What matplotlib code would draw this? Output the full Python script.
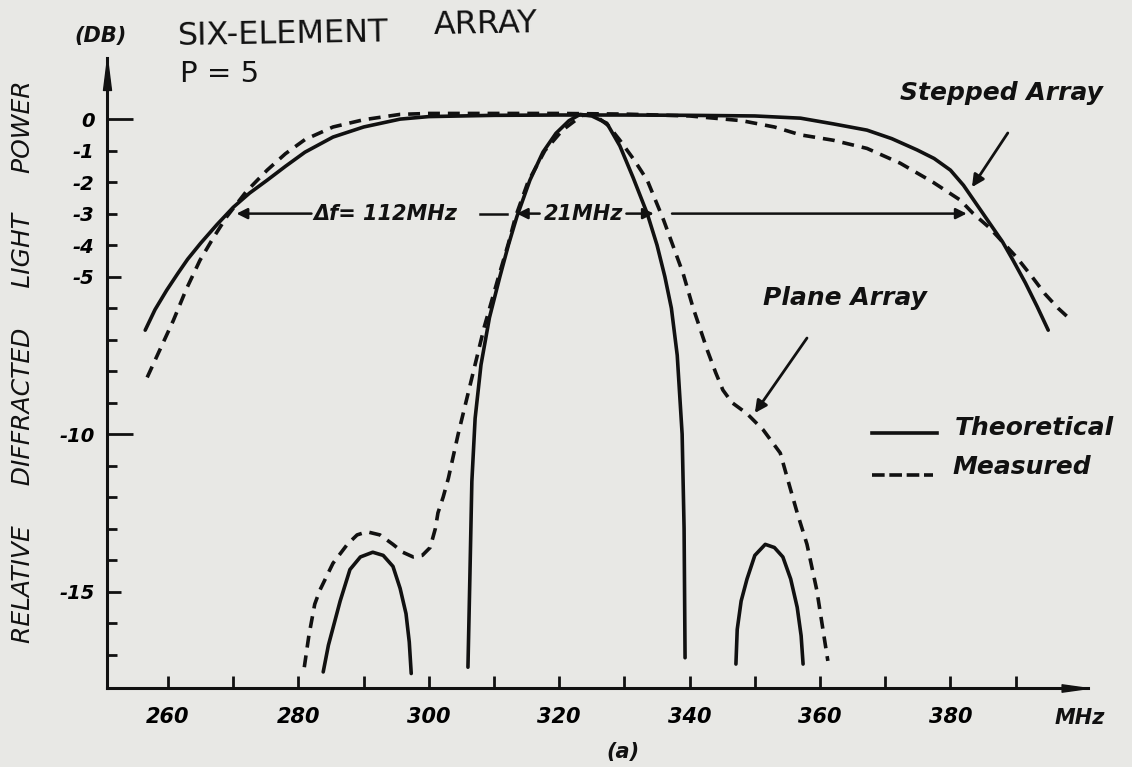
import numpy as np
import matplotlib
matplotlib.use("Agg")
import matplotlib.pyplot as plt
from matplotlib.path import Path

# ---- data: frequency (MHz) and relative diffracted power (dB) ----
stepped_theory_f = [256.5, 258.0, 259.8, 261.5, 263.0, 265.0, 267.5, 270.0, 272.5, 275.2,
                    278.0, 281.0, 285.3, 290.0, 295.6, 300.0, 310.0, 320.0, 330.0, 340.0,
                    350.0, 357.0, 362.0, 367.2, 371.0, 374.9, 377.5, 380.0, 382.0, 384.1,
                    386.0, 388.0, 389.6, 391.5, 393.3, 395.0]
stepped_theory_db = [-6.7, -6.05, -5.43, -4.9, -4.45, -3.94, -3.35, -2.8, -2.35, -1.94,
                     -1.5, -1.05, -0.57, -0.25, 0.0, 0.08, 0.12, 0.13, 0.13, 0.12,
                     0.1, 0.03, -0.15, -0.35, -0.62, -0.98, -1.25, -1.62, -2.1, -2.73,
                     -3.3, -3.9, -4.48, -5.2, -5.95, -6.7]

stepped_meas_f = [256.8, 258.8, 260.8, 262.8, 264.9, 267.0, 269.0, 272.0, 275.2, 278.0,
                  281.0, 285.3, 290.0, 295.6, 300.0, 310.0, 320.0, 330.0, 340.0, 348.0,
                  353.0, 357.0, 362.0, 367.2, 372.3, 377.3, 381.5, 383.5, 386.0, 388.0,
                  390.2, 392.5, 394.5, 396.5, 398.6]
stepped_meas_db = [-8.2, -7.3, -6.4, -5.4, -4.48, -3.75, -3.1, -2.3, -1.62, -1.1,
                   -0.65, -0.25, -0.02, 0.15, 0.18, 0.18, 0.18, 0.16, 0.1, -0.05,
                   -0.25, -0.5, -0.67, -0.93, -1.4, -2.0, -2.57, -3.0, -3.45, -3.9,
                   -4.4, -5.0, -5.55, -6.0, -6.4]

plane_theory_f = [306.0, 306.3, 306.6, 307.1, 308.0, 309.3, 310.9, 312.2, 313.5, 315.5,
                  317.5, 319.5, 321.5, 323.2, 325.0, 327.3, 329.3, 331.3, 333.5, 335.0,
                  336.2, 337.2, 338.1, 338.85, 339.15, 339.3]
plane_theory_db = [-17.4, -14.5, -11.5, -9.5, -7.8, -6.3, -5.0, -4.0, -3.1, -1.94,
                   -1.05, -0.45, -0.05, 0.15, 0.1, -0.13, -0.85, -1.84, -3.0, -4.0,
                   -5.0, -6.0, -7.5, -10.0, -13.0, -17.1]

side_left_f = [283.8, 284.6, 285.5, 286.4, 287.9, 289.5, 291.4, 293.0, 294.5, 295.6,
               296.5, 297.0, 297.3]
side_left_db = [-17.55, -16.7, -16.0, -15.3, -14.3, -13.9, -13.75, -13.85, -14.2, -14.9,
                -15.7, -16.6, -17.6]

side_right_f = [347.1, 347.3, 347.9, 348.8, 350.0, 351.6, 353.0, 354.3, 355.5, 356.5,
                357.1, 357.4]
side_right_db = [-17.3, -16.2, -15.3, -14.6, -13.85, -13.5, -13.6, -13.9, -14.6, -15.5,
                 -16.4, -17.3]

plane_meas_f = [280.9, 281.6, 282.5, 283.3, 285.3, 287.5, 289.0, 290.5, 292.5, 294.5,
                296.0, 297.6, 299.0, 300.2, 301.0, 301.4, 302.2, 303.0, 304.5, 306.5,
                308.5, 310.7, 312.2, 313.3, 315.2, 317.8, 320.5, 323.5, 325.5, 327.5,
                329.3, 331.5, 333.5, 336.0, 339.0, 340.5, 342.7, 344.0, 345.1, 346.5,
                348.8, 351.3, 353.9, 355.4, 356.5, 358.0, 359.5, 361.2]
plane_meas_db = [-17.4, -16.4, -15.4, -14.95, -14.1, -13.5, -13.2, -13.1, -13.2, -13.5,
                 -13.75, -13.9, -13.85, -13.6, -13.0, -12.5, -12.0, -11.4, -10.0, -8.3,
                 -6.6, -5.0, -3.95, -3.1, -2.0, -1.0, -0.35, 0.12, 0.12, -0.2,
                 -0.67, -1.3, -1.94, -3.2, -4.9, -5.97, -7.33, -8.05, -8.6, -9.0,
                 -9.35, -9.87, -10.6, -11.7, -12.5, -13.5, -14.95, -17.2]

# bandwidth markers (MHz)
band_left = 270.5
band_width = 112
narrow_left = 313.5
narrow_width = 21

x_ticks = list(range(260, 391, 10))
x_labels = ["260", "", "280", "", "300", "", "320", "", "340", "", "360", "", "380", ""]
y_ticks = list(range(0, -18, -1))
y_labels = {0: "0", -1: "-1", -2: "-2", -3: "-3", -4: "-4", -5: "-5", -10: "-10", -15: "-15"}

# ---- style ----
PAPER = "#e8e8e5"
INK = "#111111"
LW = 2.6
DASH = (3.3, 2.2)
FONT = "DejaVu Sans"
W, H = 1132, 767

fig = plt.figure(figsize=(W / 100, H / 100), dpi=100, facecolor=PAPER)
ax = fig.add_axes([107 / W, (H - 688) / H, 981 / W, 630 / H])
ax.set_facecolor(PAPER)
ax.set_xlim(250.64, 401.1)
ax.set_ylim(-18.06, 1.94)

for side in ("top", "right"):
    ax.spines[side].set_visible(False)
for side in ("left", "bottom"):
    ax.spines[side].set_linewidth(2.2)
    ax.spines[side].set_color(INK)

# axis arrowheads (tip sits on the axis end)
up = Path([(-0.25, -2.0), (0.0, 0.0), (0.25, -2.0), (-0.25, -2.0)],
          [Path.MOVETO, Path.LINETO, Path.LINETO, Path.CLOSEPOLY])
right = Path([(-2.0, -0.28), (0.0, 0.0), (-2.0, 0.28), (-2.0, -0.28)],
             [Path.MOVETO, Path.LINETO, Path.LINETO, Path.CLOSEPOLY])
ax.plot([0], [1], marker=up, ms=46, color=INK, transform=ax.transAxes, clip_on=False)
ax.plot([1], [0], marker=right, ms=38, color=INK, transform=ax.transAxes, clip_on=False)

# ticks
ax.set_xticks(x_ticks)
ax.set_xticklabels(x_labels)
ax.set_yticks(y_ticks)
ax.set_yticklabels([y_labels.get(v, "") for v in y_ticks])
ax.tick_params(axis="x", direction="in", length=8.4, width=2.0, color=INK, pad=14,
               labelsize=15)
ax.tick_params(axis="y", direction="in", length=7, width=2.0, color=INK, pad=9,
               labelsize=14)
for lab in ax.get_xticklabels():
    lab.set_fontfamily(FONT)
    lab.set_fontweight("bold")
    lab.set_fontstyle("oblique")
for lab in ax.get_yticklabels():
    lab.set_fontfamily(FONT)
    lab.set_fontstyle("oblique")
    lab.set_fontweight("bold")
for v, tick in zip(y_ticks, ax.yaxis.get_major_ticks()):
    if v in (0, -10):
        tick.tick1line.set_markersize(19)
    elif v in (-5, -15):
        tick.tick1line.set_markersize(10)

# curves
solid = dict(color=INK, lw=LW, solid_capstyle="round", solid_joinstyle="round")
dashed = dict(color=INK, lw=LW, linestyle=(0, DASH), dash_capstyle="butt")
ax.plot(stepped_theory_f, stepped_theory_db, **solid)
ax.plot(plane_theory_f, plane_theory_db, **solid)
ax.plot(side_left_f, side_left_db, **solid)
ax.plot(side_right_f, side_right_db, **solid)
ax.plot(stepped_meas_f, stepped_meas_db, **dashed)
ax.plot(plane_meas_f, plane_meas_db, **dashed)

# bandwidth arrows at -3 dB
txt = dict(fontfamily=FONT, fontweight="bold", fontstyle="oblique", color=INK)
arrow = dict(arrowstyle="-|>", color=INK, lw=1.8, mutation_scale=16, shrinkA=0, shrinkB=0)
band_right = band_left + band_width
narrow_right = narrow_left + narrow_width
ax.annotate("", xy=(band_left, -3), xytext=(282.0, -3), arrowprops=arrow)
ax.text(282.3, -3, "\u0394f= 112MHz", fontsize=15, va="center", ha="left", **txt)
ax.plot([307.9, 312.0], [-3, -3], color=INK, lw=1.8)
ax.annotate("", xy=(narrow_left, -3), xytext=(317.0, -3), arrowprops=arrow)
ax.text(323.8, -3, "21MHz", fontsize=15, va="center", ha="center", **txt)
ax.annotate("", xy=(narrow_right, -3), xytext=(330.3, -3), arrowprops=arrow)
ax.annotate("", xy=(band_right, -3), xytext=(337.3, -3), arrowprops=arrow)

# callouts
ax.text(387.8, 0.83, "Stepped Array", fontsize=18, ha="center", va="center", **txt)
ax.annotate("", xy=(383.3, -2.16), xytext=(388.8, -0.44),
            arrowprops=dict(arrowstyle="-|>", color=INK, lw=2.0, mutation_scale=18,
                            shrinkA=0, shrinkB=0))
ax.text(376.4, -5.9, "Plane Array", fontsize=18, ha="right", va="baseline", **txt)
ax.annotate("", xy=(350.0, -9.33), xytext=(358.0, -6.95),
            arrowprops=dict(arrowstyle="-|>", color=INK, lw=2.0, mutation_scale=18,
                            shrinkA=0, shrinkB=0))

# legend
ax.plot([0.780, 0.846], [0.405, 0.405], transform=ax.transAxes, color=INK, lw=LW,
        clip_on=False)
ax.plot([0.780, 0.842], [0.338, 0.338], transform=ax.transAxes, color=INK, lw=LW,
        linestyle=(0, (3.5, 1.3)), clip_on=False)
ax.text(0.864, 0.412, "Theoretical", transform=ax.transAxes, fontsize=18, ha="left",
        va="center", **txt)
ax.text(0.862, 0.35, "Measured", transform=ax.transAxes, fontsize=18, ha="left",
        va="center", **txt)

# axis captions and headings
ax.text(1.0 - 8 / 981, -(718 - 688) / 630, "MHz", transform=ax.transAxes, fontsize=15,
        ha="center", va="center", **txt)
fig.text(623 / W, 1 - 752 / H, "(a)", fontsize=15, ha="center", va="center", **txt)
fig.text(101 / W, 1 - 36 / H, "(DB)", fontsize=15, ha="center", va="center", **txt)
fig.text(177 / W, 1 - 35 / H, "SIX-ELEMENT", fontsize=23, ha="left",
         va="center", fontfamily=FONT, color=INK, rotation=1.0)
fig.text(433 / W, 1 - 25 / H, "ARRAY", fontsize=23, ha="left",
         va="center", fontfamily=FONT, color=INK, rotation=1.0)
fig.text(180 / W, 1 - 74 / H, "P = 5", fontsize=21, ha="left", va="center",
         fontfamily=FONT, color=INK)
fig.text(23 / W, 1 - 362 / H, "RELATIVE     DIFFRACTED     LIGHT     POWER",
         fontsize=18, rotation=90, ha="center", va="center", fontfamily=FONT,
         fontstyle="oblique", color=INK)

fig.savefig("out.png", dpi=100, facecolor=PAPER)
